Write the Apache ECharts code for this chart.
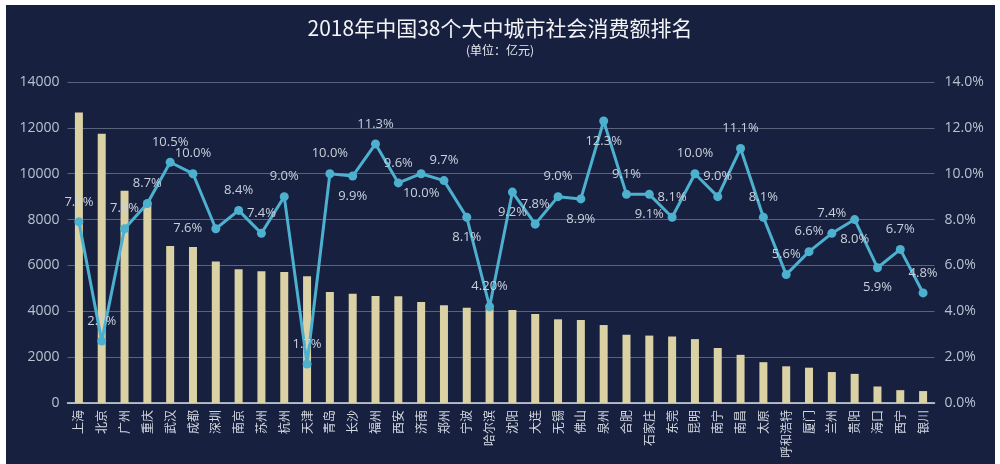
<!DOCTYPE html>
<html><head><meta charset="utf-8">
<script src="https://cdn.jsdelivr.net/npm/echarts@6/dist/echarts.min.js"></script>
<style>html,body{margin:0;padding:0;background:#fff;}#c{width:1000px;height:464px;}</style>
</head><body><div id="c"></div>
<script>
const cities = ['上海','北京','广州','重庆','武汉','成都','深圳','南京','苏州','杭州','天津','青岛','长沙','福州','西安','济南','郑州','宁波','哈尔滨','沈阳','大连','无锡','佛山','泉州','合肥','石家庄','东莞','昆明','南宁','南昌','太原','呼和浩特','厦门','兰州','贵阳','海口','西宁','银川'];
const consumption = [12668,11748,9256,8770,6843,6801,6168,5832,5747,5715,5533,4842,4765,4670,4659,4404,4268,4155,4100,4051,3880,3650,3620,3400,2976,2940,2900,2787,2400,2100,1780,1600,1540,1350,1270,720,560,520];
const growth = [7.9,2.7,7.6,8.7,10.5,10.0,7.6,8.4,7.4,9.0,1.7,10.0,9.9,11.3,9.6,10.0,9.7,8.1,4.2,9.2,7.8,9.0,8.9,12.3,9.1,9.1,8.1,10.0,9.0,11.1,8.1,5.6,6.6,7.4,8.0,5.9,6.7,4.8];
const growthText = ['7.9%','2.7%','7.6%','8.7%','10.5%','10.0%','7.6%','8.4%','7.4%','9.0%','1.7%','10.0%','9.9%','11.3%','9.6%','10.0%','9.7%','8.1%','4.20%','9.2%','7.8%','9.0%','8.9%','12.3%','9.1%','9.1%','8.1%','10.0%','9.0%','11.1%','8.1%','5.6%','6.6%','7.4%','8.0%','5.9%','6.7%','4.8%'];
const leftTicks = {min:0,max:14000,interval:2000};
const rightTicks = {min:0,max:14,interval:2};
const title = '2018年中国38个大中城市社会消费额排名';
const subtitle = '(单位：亿元)';

// label placement (style only)
const labelPos = ['top','top','top','top','top','top','left','top','top','top','top','top','bottom','top','top','bottom','top','bottom','top','bottom','top','top','bottom','bottom','top','bottom','top','top','top','top','top','top','top','top','bottom','bottom','top','top'];

const FONT = '"Noto Sans CJK SC","Noto Sans",sans-serif';
const chart = echarts.init(document.getElementById('c'));
const lineData = growth.map((v,i)=>({value:v,label:{position:labelPos[i],formatter:growthText[i]}}));
chart.setOption({
  backgroundColor:'#ffffff',
  animation:false,
  graphic:[{type:'rect',shape:{x:6,y:5,width:989,height:459},style:{fill:'#17213f'},z:-10}],
  title:{text:title,subtext:subtitle,left:'center',top:13,itemGap:5,
    textStyle:{color:'#f2f4f8',fontSize:21,fontWeight:'normal',fontFamily:FONT},
    subtextStyle:{color:'#e6e9f0',fontSize:12,fontFamily:FONT}},
  grid:{left:67.5,right:65.5,top:82,bottom:61},
  xAxis:{type:'category',data:cities,
    axisLine:{lineStyle:{color:'#d5dae4',width:1.5}},axisTick:{show:false},
    axisLabel:{rotate:90,interval:0,margin:7,color:'#d3d8e2',fontSize:12,fontFamily:FONT}},
  yAxis:[
    {type:'value',min:leftTicks.min,max:leftTicks.max,interval:leftTicks.interval,
     axisLine:{show:false},axisTick:{show:false},
     axisLabel:{color:'#b9c1d0',fontSize:14,margin:8,fontFamily:'"Open Sans",sans-serif',formatter:v=>String(v)},
     splitLine:{lineStyle:{color:'rgba(170,180,200,0.45)',width:1}}},
    {type:'value',min:rightTicks.min,max:rightTicks.max,interval:rightTicks.interval,
     axisLine:{show:false},axisTick:{show:false},
     axisLabel:{color:'#b9c1d0',fontSize:14,margin:10,fontFamily:'"Open Sans",sans-serif',formatter:v=>v.toFixed(1)+'%'},
     splitLine:{show:false}}
  ],
  series:[
    {type:'bar',data:consumption,barWidth:8,itemStyle:{color:'#dad1a5'},yAxisIndex:0},
    {type:'line',data:lineData,yAxisIndex:1,symbol:'circle',symbolSize:9,
     lineStyle:{color:'#4db0cf',width:3},itemStyle:{color:'#4db0cf'},
     label:{show:true,color:'#c9d0dc',fontSize:13,distance:9,fontFamily:'"Open Sans",sans-serif'}}
  ]
});
</script></body></html>
